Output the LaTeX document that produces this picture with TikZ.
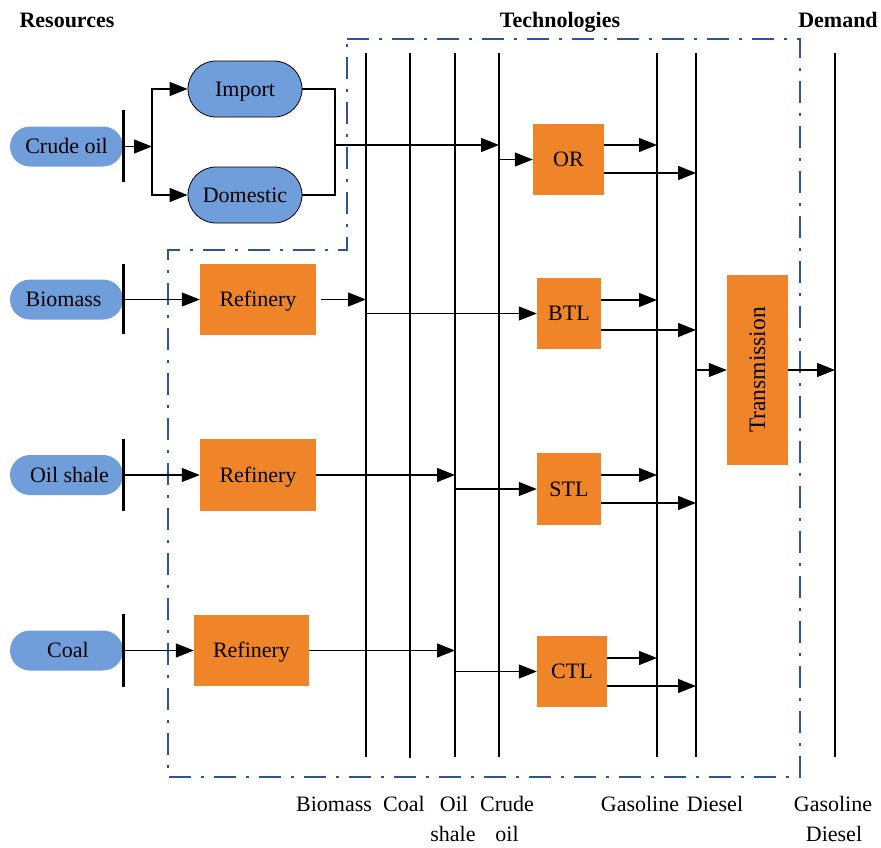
\documentclass[tikz,border=0pt]{standalone}
\usepackage{fontspec}
\setmainfont{Liberation Serif}
\usetikzlibrary{arrows.meta,calc}
\definecolor{pillblue}{RGB}{112,158,218}
\definecolor{techorange}{RGB}{240,132,40}
\definecolor{frameblue}{RGB}{47,84,150}
\begin{document}
\begin{tikzpicture}[x=1pt,y=-1pt,
  every node/.style={font=\fontsize{22}{26}\selectfont, inner sep=0pt},
  boxtext/.style={text height=17pt, text depth=3pt},
  respill/.style={boxtext, fill=pillblue, rounded corners=20pt, minimum width=113pt, minimum height=40pt},
  srcpill/.style={boxtext, fill=pillblue, draw=black, line width=0.8pt, rounded corners=28pt, minimum width=114pt, minimum height=56pt},
  techbox/.style={boxtext, fill=techorange},
  transbox/.style={fill=techorange},
  conn/.style={line width=1.2pt, -{Triangle[length=18pt,width=14pt]}},
  link/.style={line width=1.2pt},
  busline/.style={line width=2.6pt},
  barline/.style={line width=2.6pt},
  frame/.style={draw=frameblue, line width=2.8pt, dash pattern=on 22pt off 10pt on 3pt off 10pt},
  title/.style={font=\bfseries\fontsize{22}{26}\selectfont, anchor=base},
  lbl/.style={anchor=base}]
\useasboundingbox (0,0) rectangle (881,847);

% frame
\draw[frame] (347,39) -- (800,39) -- (800,777) -- (168,777) -- (168,250) -- (347,250) -- cycle;

% buses
\coordinate (busBio) at (366,53);
\coordinate (busCoal) at (410,53);
\coordinate (busShale) at (455,53);
\coordinate (busCrude) at (499,53);
\coordinate (busGas) at (657,53);
\coordinate (busDie) at (696,53);
\coordinate (busDem) at (835,53);
\coordinate (busBioB) at (366,757);
\coordinate (busCoalB) at (410,758);
\coordinate (busShaleB) at (455,757);
\coordinate (busCrudeB) at (499,757);
\coordinate (busGasB) at (657,757);
\coordinate (busDieB) at (696,757);
\coordinate (busDemB) at (835,757);
\draw[busline] (busBio) -- (busBioB);
\draw[busline] (busCoal) -- (busCoalB);
\draw[busline] (busShale) -- (busShaleB);
\draw[busline] (busCrude) -- (busCrudeB);
\draw[busline] (busGas) -- (busGasB);
\draw[busline] (busDie) -- (busDieB);
\draw[busline] (busDem) -- (busDemB);

% resources
\node[respill] (crude) at (66.5,146.5) {Crude oil};
\node[respill] (bio) at (66.5,299.5) {\hspace*{-6pt}Biomass};
\node[respill] (shale) at (66.5,475) {\hspace*{6pt}Oil shale};
\node[respill] (coal) at (66.5,650.5) {\hspace*{3pt}Coal};
\draw[barline] ([yshift=37pt]crude.east) -- ([yshift=-35pt]crude.east);
\draw[barline] ([yshift=36pt]bio.east) -- ([yshift=-34pt]bio.east);
\draw[barline] ([yshift=36pt]shale.east) -- ([yshift=-36pt]shale.east);
\draw[barline] ([yshift=37pt]coal.east) -- ([yshift=-36pt]coal.east);

% import / domestic
\node[srcpill] (imp) at (245,89) {Import};
\node[srcpill] (dom) at (245,195) {Domestic};
\coordinate (branch) at (152,146.5);
\draw[conn] (crude.east) -- (branch);
\draw[conn] (branch) |- (imp.west);
\draw[conn] (branch) |- (dom.west);
\coordinate (join) at (335,145);
\draw[link] (imp.east) -| (join) |- (dom.east);
\draw[conn] (join) -- (join -| busCrude);

% refineries
\node[techbox, minimum width=116pt, minimum height=71pt] (refB) at (258,299.5) {Refinery};
\node[techbox, minimum width=116pt, minimum height=72pt] (refS) at (258,475) {Refinery};
\node[techbox, minimum width=115pt, minimum height=71pt] (refC) at (251.5,650.5) {Refinery};
\draw[conn] (bio.east) -- (refB.west);
\draw[conn] (shale.east) -- (refS.west);
\draw[conn] (coal.east) -- (refC.west);
\draw[conn, shorten <=5pt] (refB.east) -- (refB.east -| busBio);
\draw[conn] (refS.east) -- (refS.east -| busShale);
\draw[conn] (refC.east) -- (refC.east -| busShale);

% technologies
\node[techbox, minimum width=71pt, minimum height=71pt] (or) at (568.5,159.5) {OR};
\node[techbox, minimum width=64pt, minimum height=71pt] (btl) at (569,313.5) {BTL};
\node[techbox, minimum width=64pt, minimum height=72pt] (stl) at (569,489) {STL};
\node[techbox, minimum width=70pt, minimum height=71pt] (ctl) at (572,671.5) {CTL};
\node[transbox, minimum width=61pt, minimum height=190pt] (trans) at (757.5,370) {\rotatebox{90}{\fontsize{23.5}{26}\selectfont Transmission}};

\draw[conn] (or.west -| busCrude) -- (or.west);
\draw[conn] (btl.west -| busBio) -- (btl.west);
\draw[conn] (stl.west -| busShale) -- (stl.west);
\draw[conn] (ctl.west -| busShale) -- (ctl.west);

\path ($(or.east)+(0,-14.5)$) coordinate (or1) ($(or.east)+(0,13.5)$) coordinate (or2);
\path ($(btl.east)+(0,-13.5)$) coordinate (btl1) ($(btl.east)+(0,16.5)$) coordinate (btl2);
\path ($(stl.east)+(0,-14)$) coordinate (stl1) ($(stl.east)+(0,14)$) coordinate (stl2);
\path ($(ctl.east)+(0,-13.5)$) coordinate (ctl1) ($(ctl.east)+(0,14.5)$) coordinate (ctl2);
\draw[conn] (or1) -- (or1 -| busGas);
\draw[conn] (or2) -- (or2 -| busDie);
\draw[conn] (btl1) -- (btl1 -| busGas);
\draw[conn] (btl2) -- (btl2 -| busDie);
\draw[conn] (stl1) -- (stl1 -| busGas);
\draw[conn] (stl2) -- (stl2 -| busDie);
\draw[conn] (ctl1) -- (ctl1 -| busGas);
\draw[conn] (ctl2) -- (ctl2 -| busDie);

\draw[conn] (trans.west -| busDie) -- (trans.west);
\draw[conn] (trans.east) -- (trans.east -| busDem);

% titles
\node[title] (tRes) at (67,27) {Resources};
\node[title] (tTech) at (560,27) {Technologies};
\node[title] (tDem) at (838,27) {Demand};

% bottom labels
\node[lbl] (lBio) at (334,811) {Biomass};
\node[lbl] (lCoal) at (404,811) {Coal};
\node[lbl] (lOil) at (454,811) {Oil};
\node[lbl] (lShale) at (453,841) {shale};
\node[lbl] (lCrude) at (507,811) {Crude};
\node[lbl] (lCoil) at (507,841) {oil};
\node[lbl] (lGas) at (640,811) {Gasoline};
\node[lbl] (lDie) at (715,811) {Diesel};
\node[lbl] (lGas2) at (833,811) {Gasoline};
\node[lbl] (lDie2) at (834,841) {Diesel};
\end{tikzpicture}
\end{document}
